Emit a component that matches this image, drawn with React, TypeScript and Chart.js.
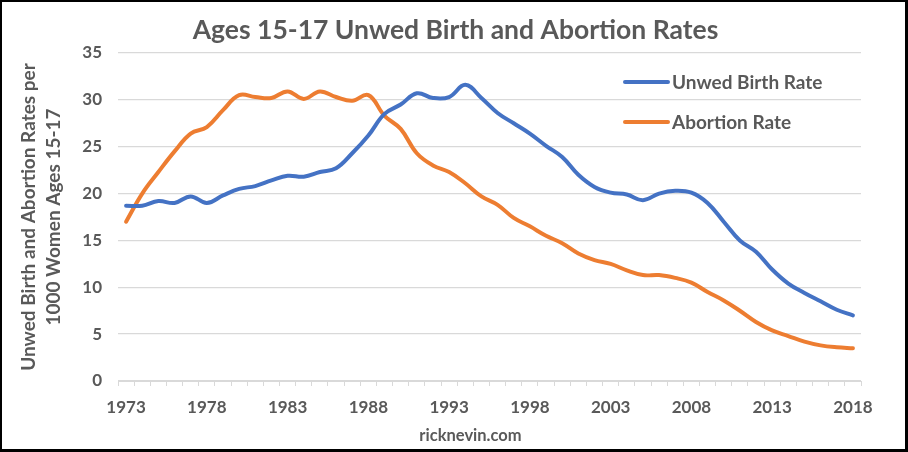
import { useEffect, useRef } from 'react';
import { Chart, registerables } from 'chart.js';

Chart.register(...registerables);

const years = [
  '1973', '1974', '1975', '1976', '1977', '1978', '1979', '1980', '1981', '1982',
  '1983', '1984', '1985', '1986', '1987', '1988', '1989', '1990', '1991', '1992',
  '1993', '1994', '1995', '1996', '1997', '1998', '1999', '2000', '2001', '2002',
  '2003', '2004', '2005', '2006', '2007', '2008', '2009', '2010', '2011', '2012',
  '2013', '2014', '2015', '2016', '2017', '2018',
];

const unwedBirthRate = [
  18.7, 18.7, 19.2, 19.0, 19.7, 19.0, 19.8, 20.5, 20.8, 21.4,
  21.9, 21.8, 22.3, 22.7, 24.3, 26.2, 28.5, 29.5, 30.7, 30.2,
  30.3, 31.6, 30.2, 28.6, 27.5, 26.4, 25.1, 23.9, 22.0, 20.7,
  20.1, 19.9, 19.3, 20.0, 20.3, 20.1, 19.0, 17.0, 15.0, 13.8,
  11.9, 10.4, 9.4, 8.5, 7.6, 7.0,
];

const abortionRate = [
  17.0, 20.0, 22.3, 24.5, 26.4, 27.1, 28.9, 30.5, 30.3, 30.2,
  30.9, 30.1, 30.9, 30.3, 29.9, 30.5, 28.3, 26.9, 24.3, 23.0,
  22.3, 21.1, 19.7, 18.8, 17.4, 16.5, 15.5, 14.7, 13.6, 12.9,
  12.5, 11.8, 11.3, 11.3, 11.0, 10.5, 9.5, 8.6, 7.5, 6.3,
  5.4, 4.8, 4.2, 3.8, 3.6, 3.5,
];

const labeledYears = ['1973', '1978', '1983', '1988', '1993', '1998', '2003', '2008', '2013', '2018'];

const seriesNames = ['Unwed Birth Rate', 'Abortion Rate'];
const seriesColors = ['#4472C4', '#ED7D31'];

const chartTitle = 'Ages 15-17 Unwed Birth and Abortion Rates';
const yTitle = ['Unwed Birth and Abortion Rates per', '1000 Women Ages 15-17'];
const xTitle = 'ricknevin.com';

const FONT = 'Lato, "Open Sans", sans-serif';
const TEXT = '#595959';
const GRID = '#d9d9d9';

const overlayPlugin = {
  id: 'overlay',
  afterDraw(chart: any) {
    const ctx = chart.ctx;
    const area = chart.chartArea;
    ctx.save();
    // Title
    ctx.fillStyle = TEXT;
    ctx.font = `bold 26.5px ${FONT}`;
    ctx.textAlign = 'center';
    ctx.textBaseline = 'middle';
    ctx.fillText(chartTitle, chart.width / 2 + 2, 28);
    // X axis caption
    ctx.font = `bold 16.5px ${FONT}`;
    ctx.fillText(xTitle, chart.width / 2 + 17, chart.height - 13);
    // Legend
    const lx0 = area.right - 236;
    const lx1 = lx0 + 43;
    const ys = [area.top + 29, area.top + 69];
    ctx.font = `bold 19px ${FONT}`;
    ctx.textAlign = 'left';
    for (let i = 0; i < seriesNames.length; i++) {
      ctx.strokeStyle = seriesColors[i];
      ctx.lineWidth = 4;
      ctx.lineCap = 'round';
      ctx.beginPath();
      ctx.moveTo(lx0, ys[i]);
      ctx.lineTo(lx1, ys[i]);
      ctx.stroke();
      ctx.fillStyle = TEXT;
      ctx.fillText(seriesNames[i], lx1 + 4, ys[i] + 1);
    }
    ctx.restore();
  },
};

export default function App() {
  const canvasRef = useRef<HTMLCanvasElement | null>(null);

  useEffect(() => {
    document.body.style.margin = '0';
    const canvas = canvasRef.current;
    if (!canvas) return;
    const chart = new Chart(canvas, {
      type: 'line',
      data: {
        labels: years,
        datasets: [
          {
            label: seriesNames[0],
            data: unwedBirthRate,
            borderColor: seriesColors[0],
            backgroundColor: seriesColors[0],
            borderWidth: 4,
            pointRadius: 0,
            tension: 0.4,
            borderCapStyle: 'round',
          },
          {
            label: seriesNames[1],
            data: abortionRate,
            borderColor: seriesColors[1],
            backgroundColor: seriesColors[1],
            borderWidth: 4,
            pointRadius: 0,
            tension: 0.4,
            borderCapStyle: 'round',
          },
        ],
      },
      options: {
        responsive: false,
        animation: false,
        layout: { padding: { top: 51, right: 44, left: 0, bottom: 0 } },
        plugins: {
          legend: { display: false },
          title: { display: false },
          tooltip: { enabled: false },
        },
        scales: {
          x: {
            type: 'category',
            offset: true,
            grid: {
              offset: true,
              drawOnChartArea: false,
              drawTicks: true,
              tickLength: 5,
              color: GRID,
            },
            border: { display: true, color: GRID },
            ticks: {
              autoSkip: false,
              maxRotation: 0,
              minRotation: 0,
              padding: 11,
              color: TEXT,
              font: { family: FONT, size: 17, weight: 'bold' },
              callback: function (this: any, value: any) {
                const lbl = this.getLabelForValue(value);
                return labeledYears.includes(lbl) ? lbl : '';
              },
            },
            title: { display: false },
            afterFit: (scale: any) => {
              scale.height = 68;
            },
          },
          y: {
            min: 0,
            max: 35,
            ticks: {
              stepSize: 5,
              padding: 16,
              color: TEXT,
              font: { family: FONT, size: 17, weight: 'bold' },
            },
            grid: { color: GRID, drawTicks: false, lineWidth: 1.3 },
            border: { display: false },
            title: {
              display: true,
              text: yTitle,
              color: TEXT,
              font: { family: FONT, size: 19, weight: 'bold', lineHeight: 1.3 },
              padding: { top: 15, bottom: 0 },
            },
            afterFit: (scale: any) => {
              scale.width = 116;
            },
          },
        },
      },
      plugins: [overlayPlugin],
    } as any);
    return () => chart.destroy();
  }, []);

  return (
    <div
      style={{
        position: 'absolute',
        left: 0,
        top: 0,
        width: 908,
        height: 452,
        boxSizing: 'border-box',
        borderStyle: 'solid',
        borderColor: '#000',
        borderWidth: '2px 3px 3px 2px',
        background: '#fff',
      }}
    >
      <canvas ref={canvasRef} width={903} height={447} style={{ display: 'block' }} />
    </div>
  );
}
